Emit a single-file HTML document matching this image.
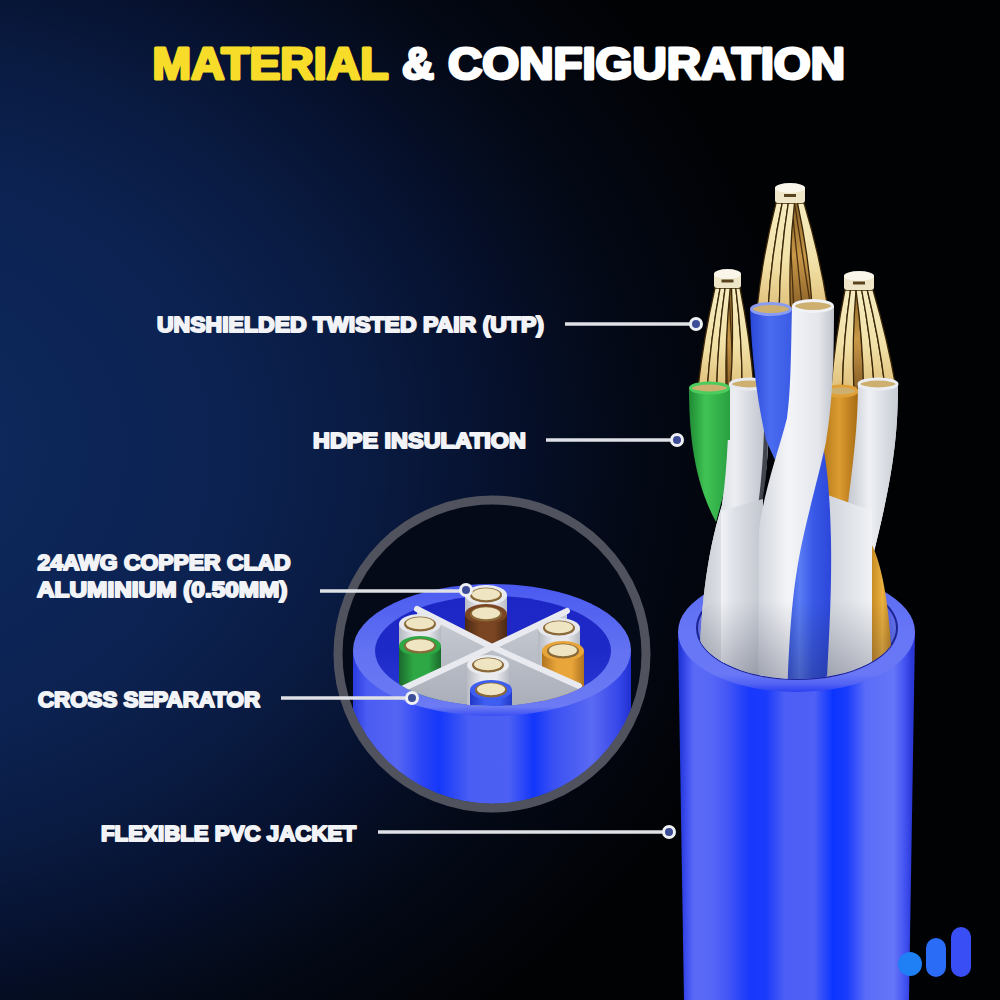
<!DOCTYPE html>
<html><head><meta charset="utf-8">
<style>
html,body{margin:0;padding:0;background:#010204;width:1000px;height:1000px;overflow:hidden}
svg{display:block}
text{font-family:"Liberation Sans",sans-serif;font-weight:bold}
</style></head><body>
<svg width="1000" height="1000" viewBox="0 0 1000 1000">
<defs>
<radialGradient id="bg" cx="-150" cy="450" r="950" gradientUnits="userSpaceOnUse" gradientTransform="translate(-150 450) scale(1 0.79) translate(150 -450)">
<stop offset="0" stop-color="#0e2b60"/>
<stop offset="0.37" stop-color="#0c2353"/>
<stop offset="0.53" stop-color="#0a1c44"/>
<stop offset="0.68" stop-color="#06112e"/>
<stop offset="0.8" stop-color="#040a19"/>
<stop offset="0.94" stop-color="#02040a"/>
<stop offset="1" stop-color="#010204"/>
</radialGradient>
<linearGradient id="cyl2" x1="353" y1="0" x2="631" y2="0" gradientUnits="userSpaceOnUse">
<stop offset="0" stop-color="#2a3be0"/>
<stop offset="0.05" stop-color="#4a5cf2"/>
<stop offset="0.16" stop-color="#5565f3"/>
<stop offset="0.25" stop-color="#2a44f5"/>
<stop offset="0.31" stop-color="#1538fa"/>
<stop offset="0.42" stop-color="#4a5ef3"/>
<stop offset="0.56" stop-color="#4d60f3"/>
<stop offset="0.65" stop-color="#1236fb"/>
<stop offset="0.72" stop-color="#3a50f3"/>
<stop offset="0.86" stop-color="#5a6af3"/>
<stop offset="0.96" stop-color="#3445e8"/>
<stop offset="1" stop-color="#2030d0"/>
</linearGradient>
<linearGradient id="rim2" x1="0" y1="585" x2="0" y2="716" gradientUnits="userSpaceOnUse">
<stop offset="0" stop-color="#4a5af0"/>
<stop offset="0.5" stop-color="#6272f2"/>
<stop offset="0.93" stop-color="#6c7af4"/>
<stop offset="1" stop-color="#3a4ef2"/>
</linearGradient>
<linearGradient id="inner2" x1="0" y1="596" x2="0" y2="706" gradientUnits="userSpaceOnUse">
<stop offset="0" stop-color="#1c26c4"/>
<stop offset="0.5" stop-color="#1e2ac8"/>
<stop offset="1" stop-color="#2a3ad8"/>
</linearGradient>
<clipPath id="insetClip"><circle cx="492" cy="654" r="150"/></clipPath>
<linearGradient id="sepFace" x1="0" y1="610" x2="0" y2="740" gradientUnits="userSpaceOnUse">
<stop offset="0" stop-color="#c9cdd5"/><stop offset="1" stop-color="#9ea3ae"/></linearGradient>
<clipPath id="open2"><rect x="0" y="0" width="1000" height="651"/><ellipse cx="493" cy="651" rx="118" ry="55"/></clipPath>

<linearGradient id="cyl1" x1="680" y1="0" x2="912" y2="0" gradientUnits="userSpaceOnUse">
<stop offset="0" stop-color="#2236d8"/>
<stop offset="0.03" stop-color="#4050f0"/>
<stop offset="0.06" stop-color="#5a6af6"/>
<stop offset="0.13" stop-color="#5868f6"/>
<stop offset="0.2" stop-color="#4658f5"/>
<stop offset="0.3" stop-color="#1838fc"/>
<stop offset="0.37" stop-color="#1a3afc"/>
<stop offset="0.45" stop-color="#4c5ef5"/>
<stop offset="0.58" stop-color="#4e60f5"/>
<stop offset="0.66" stop-color="#0a34ff"/>
<stop offset="0.72" stop-color="#1a3cfc"/>
<stop offset="0.8" stop-color="#5a6cf8"/>
<stop offset="0.92" stop-color="#6676f8"/>
<stop offset="0.97" stop-color="#4252f0"/>
<stop offset="1" stop-color="#2a38d8"/>
</linearGradient>
<linearGradient id="rim1" x1="0" y1="572" x2="0" y2="692" gradientUnits="userSpaceOnUse">
<stop offset="0" stop-color="#5a6af2"/>
<stop offset="0.5" stop-color="#6676f6"/>
<stop offset="0.85" stop-color="#6a78f6"/>
<stop offset="0.93" stop-color="#5464f4"/>
<stop offset="1" stop-color="#2a40f0"/>
</linearGradient>
<linearGradient id="inner1" x1="697" y1="0" x2="897" y2="0" gradientUnits="userSpaceOnUse">
<stop offset="0" stop-color="#6c7af4"/>
<stop offset="0.1" stop-color="#3a4ce8"/>
<stop offset="0.9" stop-color="#3a4ce8"/>
<stop offset="1" stop-color="#6c7af4"/>
</linearGradient>
<clipPath id="lowL"><rect x="0" y="440" width="1000" height="560"/></clipPath>
<linearGradient id="aoG" x1="0" y1="600" x2="0" y2="690" gradientUnits="userSpaceOnUse"><stop offset="0" stop-color="#101430" stop-opacity="0"/><stop offset="1" stop-color="#101430" stop-opacity="0.3"/></linearGradient>
<clipPath id="open1"><rect x="0" y="0" width="1000" height="628"/><ellipse cx="797" cy="628" rx="100" ry="51"/></clipPath>
<linearGradient id="whiteL" x1="699" y1="0" x2="770" y2="0" gradientUnits="userSpaceOnUse"><stop offset="0" stop-color="#c4c8d0"/><stop offset="0.5" stop-color="#eceef2"/><stop offset="1" stop-color="#b8bcc6"/></linearGradient>
<linearGradient id="whiteR" x1="846" y1="0" x2="898" y2="0" gradientUnits="userSpaceOnUse"><stop offset="0" stop-color="#c0c4cc"/><stop offset="0.45" stop-color="#eef0f4"/><stop offset="1" stop-color="#c8ccd4"/></linearGradient>
<linearGradient id="whiteC" x1="757" y1="0" x2="834" y2="0" gradientUnits="userSpaceOnUse"><stop offset="0" stop-color="#d0d4dc"/><stop offset="0.4" stop-color="#f4f5f8"/><stop offset="0.8" stop-color="#e4e6ec"/><stop offset="1" stop-color="#c0c4cc"/></linearGradient>
<linearGradient id="greenG" x1="689" y1="0" x2="730" y2="0" gradientUnits="userSpaceOnUse"><stop offset="0" stop-color="#1f8a34"/><stop offset="0.4" stop-color="#40c455"/><stop offset="1" stop-color="#2aa040"/></linearGradient>
<linearGradient id="orangeG" x1="824" y1="0" x2="858" y2="0" gradientUnits="userSpaceOnUse"><stop offset="0" stop-color="#b87c1c"/><stop offset="0.45" stop-color="#dc9c30"/><stop offset="1" stop-color="#a86c14"/></linearGradient>
<linearGradient id="orangeG2" x1="872" y1="0" x2="893" y2="0" gradientUnits="userSpaceOnUse"><stop offset="0" stop-color="#c88c24"/><stop offset="0.5" stop-color="#eab040"/><stop offset="1" stop-color="#b87c1c"/></linearGradient>
<linearGradient id="blueG" x1="750" y1="0" x2="800" y2="0" gradientUnits="userSpaceOnUse"><stop offset="0" stop-color="#2a48d8"/><stop offset="0.4" stop-color="#4a6cf0"/><stop offset="1" stop-color="#3454e0"/></linearGradient>
<linearGradient id="blueG2" x1="781" y1="0" x2="834" y2="0" gradientUnits="userSpaceOnUse"><stop offset="0" stop-color="#2a48d8"/><stop offset="0.35" stop-color="#5a7cf4"/><stop offset="0.6" stop-color="#3a5ae8"/><stop offset="1" stop-color="#2a44d8"/></linearGradient>
<linearGradient id="slabL" x1="721" y1="0" x2="763" y2="0" gradientUnits="userSpaceOnUse"><stop offset="0" stop-color="#f0f2f5"/><stop offset="0.3" stop-color="#dfe2e8"/><stop offset="1" stop-color="#c2c6ce"/></linearGradient>
<linearGradient id="slabR" x1="825" y1="0" x2="872" y2="0" gradientUnits="userSpaceOnUse"><stop offset="0" stop-color="#cfd3da"/><stop offset="0.6" stop-color="#e2e5ea"/><stop offset="1" stop-color="#f0f2f5"/></linearGradient>

</defs>
<rect width="1000" height="1000" fill="#010204"/>
<rect width="1000" height="1000" fill="url(#bg)"/>

<!-- title -->
<g stroke-width="3" stroke-linejoin="round">
<text x="152.5" y="79" font-size="44" fill="#f7dc2a" stroke="#f7dc2a" textLength="236" lengthAdjust="spacingAndGlyphs">MATERIAL</text>
<text x="402" y="79" font-size="44" fill="#ffffff" stroke="#ffffff" textLength="32" lengthAdjust="spacingAndGlyphs">&amp;</text>
<text x="448" y="79" font-size="44" fill="#ffffff" stroke="#ffffff" textLength="397" lengthAdjust="spacingAndGlyphs">CONFIGURATION</text>
</g>

<!-- labels -->
<g fill="#f2f3f6" stroke="#f2f3f6" stroke-width="2" stroke-linejoin="round" font-size="22">
<text x="157" y="331.5" textLength="387" lengthAdjust="spacingAndGlyphs">UNSHIELDED TWISTED PAIR (UTP)</text>
<text x="313" y="447.5" textLength="213" lengthAdjust="spacingAndGlyphs">HDPE INSULATION</text>
<text x="37.5" y="569.5" textLength="253" lengthAdjust="spacingAndGlyphs">24AWG COPPER CLAD</text>
<text x="37" y="596.5" textLength="250.5" lengthAdjust="spacingAndGlyphs">ALUMINIUM (0.50MM)</text>
<text x="38" y="706.5" textLength="222" lengthAdjust="spacingAndGlyphs">CROSS SEPARATOR</text>
<text x="101" y="840.5" textLength="255" lengthAdjust="spacingAndGlyphs">FLEXIBLE PVC JACKET</text>
</g>

<!-- inset circle -->
<circle cx="492" cy="654" r="151" fill="#050a19"/>
<g clip-path="url(#insetClip)">
  <rect x="353" y="650" width="278" height="220" fill="url(#cyl2)"/>
  <ellipse cx="492" cy="650" rx="139" ry="66" fill="url(#rim2)"/>
  <ellipse cx="493" cy="651" rx="118" ry="55" fill="url(#inner2)"/>
  <g clip-path="url(#open2)">
<linearGradient id="w486_595" x1="465" y1="0" x2="507" y2="0" gradientUnits="userSpaceOnUse"><stop offset="0" stop-color="#b9bcc4"/><stop offset="0.35" stop-color="#e9ebef"/><stop offset="0.7" stop-color="#e9ebef"/><stop offset="1" stop-color="#b9bcc4"/></linearGradient>
<path d="M465,595 L465,645 A21,10 0 0,0 507,645 L507,595 Z" fill="url(#w486_595)"/>
<ellipse cx="486" cy="595" rx="21" ry="10" fill="#e9ebef"/>
<ellipse cx="486" cy="595" rx="16" ry="7.5" fill="#8a6a38"/>
<ellipse cx="486" cy="594.2" rx="14" ry="6" fill="#efe5c2"/>
<linearGradient id="w486_614" x1="465" y1="0" x2="507" y2="0" gradientUnits="userSpaceOnUse"><stop offset="0" stop-color="#4a2a14"/><stop offset="0.35" stop-color="#7a4522"/><stop offset="0.7" stop-color="#7a4522"/><stop offset="1" stop-color="#4a2a14"/></linearGradient>
<path d="M465,614 L465,664 A21,10 0 0,0 507,664 L507,614 Z" fill="url(#w486_614)"/>
<ellipse cx="486" cy="614" rx="21" ry="10" fill="#7a4522"/>
<ellipse cx="486" cy="614" rx="16" ry="7.5" fill="#8a6a38"/>
<ellipse cx="486" cy="613.2" rx="14" ry="6" fill="#efe5c2"/>
<path d="M492,647 L417,609 L417,659 L492,697 Z" fill="url(#sepFace)"/>
<path d="M492,647 L567,611 L567,661 L492,697 Z" fill="url(#sepFace)"/>
<line x1="492" y1="647" x2="417" y2="609" stroke="#e8eaef" stroke-width="6" stroke-linecap="round"/>
<line x1="492" y1="647" x2="567" y2="611" stroke="#e8eaef" stroke-width="6" stroke-linecap="round"/>
<linearGradient id="w420_624" x1="399" y1="0" x2="441" y2="0" gradientUnits="userSpaceOnUse"><stop offset="0" stop-color="#b4b8c0"/><stop offset="0.35" stop-color="#e6e8ed"/><stop offset="0.7" stop-color="#e6e8ed"/><stop offset="1" stop-color="#b4b8c0"/></linearGradient>
<path d="M399,624 L399,674 A21,10 0 0,0 441,674 L441,624 Z" fill="url(#w420_624)"/>
<ellipse cx="420" cy="624" rx="21" ry="10" fill="#e6e8ed"/>
<ellipse cx="420" cy="624" rx="16" ry="7.5" fill="#8a6a38"/>
<ellipse cx="420" cy="623.2" rx="14" ry="6" fill="#efe5c2"/>
<linearGradient id="w420_646" x1="399" y1="0" x2="441" y2="0" gradientUnits="userSpaceOnUse"><stop offset="0" stop-color="#1a6a2c"/><stop offset="0.35" stop-color="#2ea844"/><stop offset="0.7" stop-color="#2ea844"/><stop offset="1" stop-color="#1a6a2c"/></linearGradient>
<path d="M399,646 L399,706 A21,10 0 0,0 441,706 L441,646 Z" fill="url(#w420_646)"/>
<ellipse cx="420" cy="646" rx="21" ry="10" fill="#2ea844"/>
<ellipse cx="420" cy="646" rx="16" ry="7.5" fill="#8a6a38"/>
<ellipse cx="420" cy="645.2" rx="14" ry="6" fill="#efe5c2"/>
<linearGradient id="w559_628" x1="538" y1="0" x2="580" y2="0" gradientUnits="userSpaceOnUse"><stop offset="0" stop-color="#b4b8c0"/><stop offset="0.35" stop-color="#e6e8ed"/><stop offset="0.7" stop-color="#e6e8ed"/><stop offset="1" stop-color="#b4b8c0"/></linearGradient>
<path d="M538,628 L538,678 A21,10 0 0,0 580,678 L580,628 Z" fill="url(#w559_628)"/>
<ellipse cx="559" cy="628" rx="21" ry="10" fill="#e6e8ed"/>
<ellipse cx="559" cy="628" rx="16" ry="7.5" fill="#8a6a38"/>
<ellipse cx="559" cy="627.2" rx="14" ry="6" fill="#efe5c2"/>
<linearGradient id="w563_651" x1="542" y1="0" x2="584" y2="0" gradientUnits="userSpaceOnUse"><stop offset="0" stop-color="#b07420"/><stop offset="0.35" stop-color="#e8a53a"/><stop offset="0.7" stop-color="#e8a53a"/><stop offset="1" stop-color="#b07420"/></linearGradient>
<path d="M542,651 L542,711 A21,10 0 0,0 584,711 L584,651 Z" fill="url(#w563_651)"/>
<ellipse cx="563" cy="651" rx="21" ry="10" fill="#e8a53a"/>
<ellipse cx="563" cy="651" rx="16" ry="7.5" fill="#8a6a38"/>
<ellipse cx="563" cy="650.2" rx="14" ry="6" fill="#efe5c2"/>
<path d="M492,647 L402,689 L402,749 L492,707 Z" fill="url(#sepFace)"/>
<path d="M492,647 L579,686 L579,746 L492,707 Z" fill="url(#sepFace)"/>
<line x1="492" y1="647" x2="402" y2="689" stroke="#e8eaef" stroke-width="6" stroke-linecap="round"/>
<line x1="492" y1="647" x2="579" y2="686" stroke="#e8eaef" stroke-width="6" stroke-linecap="round"/>
<linearGradient id="w488_665" x1="467" y1="0" x2="509" y2="0" gradientUnits="userSpaceOnUse"><stop offset="0" stop-color="#b9bcc4"/><stop offset="0.35" stop-color="#e9ebef"/><stop offset="0.7" stop-color="#e9ebef"/><stop offset="1" stop-color="#b9bcc4"/></linearGradient>
<path d="M467,665 L467,715 A21,10 0 0,0 509,715 L509,665 Z" fill="url(#w488_665)"/>
<ellipse cx="488" cy="665" rx="21" ry="10" fill="#e9ebef"/>
<ellipse cx="488" cy="665" rx="16" ry="7.5" fill="#8a6a38"/>
<ellipse cx="488" cy="664.2" rx="14" ry="6" fill="#efe5c2"/>
<linearGradient id="w491_690" x1="470" y1="0" x2="512" y2="0" gradientUnits="userSpaceOnUse"><stop offset="0" stop-color="#2238c8"/><stop offset="0.35" stop-color="#3d5ef0"/><stop offset="0.7" stop-color="#3d5ef0"/><stop offset="1" stop-color="#2238c8"/></linearGradient>
<path d="M470,690 L470,740 A21,10 0 0,0 512,740 L512,690 Z" fill="url(#w491_690)"/>
<ellipse cx="491" cy="690" rx="21" ry="10" fill="#3d5ef0"/>
<ellipse cx="491" cy="690" rx="16" ry="7.5" fill="#8a6a38"/>
<ellipse cx="491" cy="689.2" rx="14" ry="6" fill="#efe5c2"/>
  </g>
</g>
<circle cx="492" cy="654" r="154" fill="none" stroke="#50535e" stroke-width="9"/>

<!-- main cable -->
<path d="M678,632 L684,1000 L909,1000 L915,632 Z" fill="url(#cyl1)"/>
<ellipse cx="796.5" cy="632" rx="118.5" ry="60" fill="url(#rim1)"/>
<ellipse cx="797" cy="628" rx="100" ry="51" fill="url(#inner1)" stroke="#1c2498" stroke-width="2"/>
<g clip-path="url(#open1)">
<linearGradient id="bkL" x1="0" y1="288" x2="0" y2="388" gradientUnits="userSpaceOnUse"><stop offset="0" stop-color="#8a6428"/><stop offset="0.5" stop-color="#c89848"/><stop offset="1" stop-color="#8a6028"/></linearGradient>
<linearGradient id="ltL" x1="0" y1="288" x2="0" y2="388" gradientUnits="userSpaceOnUse"><stop offset="0" stop-color="#f6ecc0"/><stop offset="0.55" stop-color="#f2e2a8"/><stop offset="1" stop-color="#e0c07a"/></linearGradient>
<path d="M716,288 Q704.0,338.0 698,388 L754,388 Q749.5,338.0 739,288 Z" fill="url(#bkL)"/>
<path d="M726.1,288 Q726.6,338.0 727.1,388" stroke="#4a3010" stroke-width="1.3" fill="none"/>
<path d="M728.9,288 Q731.3,338.0 733.8,388" stroke="#4a3010" stroke-width="1.3" fill="none"/>
<path d="M731.5,288 Q736.1,338.0 740.6,388" stroke="#4a3010" stroke-width="1.3" fill="none"/>
<path d="M715.0,288 Q703.5,338.0 698.0,388 L707.3,388 Q710.7,338.0 720.1,288 Z" fill="url(#ltL)" stroke="#3a2608" stroke-width="1.3"/>
<path d="M720.1,288 Q710.7,338.0 707.3,388 L716.7,388 Q717.9,338.0 725.1,288 Z" fill="url(#ltL)" stroke="#3a2608" stroke-width="1.3"/>
<path d="M725.1,288 Q717.9,338.0 716.7,388 L726.0,388 Q725.1,338.0 730.2,288 Z" fill="url(#ltL)" stroke="#3a2608" stroke-width="1.3"/>
<path d="M731.5,288 Q734.0,338.0 730.5,388 L742.2,388 Q742.0,338.0 735.8,288 Z" fill="url(#ltL)" stroke="#3a2608" stroke-width="1.3"/>
<path d="M735.8,288 Q742.0,338.0 742.2,388 L754.0,388 Q750.0,338.0 740.0,288 Z" fill="url(#ltL)" stroke="#3a2608" stroke-width="1.3"/>
<rect x="714" y="272" width="27" height="16" rx="3" fill="#eee6c6"/>
<ellipse cx="727.5" cy="274" rx="13.5" ry="5" fill="#faf6ea"/>
<rect x="721.5" y="279.5" width="12" height="3" fill="#5a4420"/>
<linearGradient id="bkR" x1="0" y1="290" x2="0" y2="388" gradientUnits="userSpaceOnUse"><stop offset="0" stop-color="#8a6428"/><stop offset="0.5" stop-color="#c89848"/><stop offset="1" stop-color="#8a6028"/></linearGradient>
<linearGradient id="ltR" x1="0" y1="290" x2="0" y2="388" gradientUnits="userSpaceOnUse"><stop offset="0" stop-color="#f6ecc0"/><stop offset="0.55" stop-color="#f2e2a8"/><stop offset="1" stop-color="#e0c07a"/></linearGradient>
<path d="M846,290 Q835.5,339.0 831,388 L896,388 Q887.0,339.0 872,290 Z" fill="url(#bkR)"/>
<path d="M857.5,290 Q861.1,339.0 864.8,388" stroke="#4a3010" stroke-width="1.3" fill="none"/>
<path d="M860.5,290 Q866.5,339.0 872.6,388" stroke="#4a3010" stroke-width="1.3" fill="none"/>
<path d="M863.5,290 Q872.0,339.0 880.4,388" stroke="#4a3010" stroke-width="1.3" fill="none"/>
<path d="M845.0,290 Q835.0,339.0 831.0,388 L842.4,388 Q843.4,339.0 850.5,290 Z" fill="url(#ltR)" stroke="#3a2608" stroke-width="1.3"/>
<path d="M850.5,290 Q843.4,339.0 842.4,388 L853.8,388 Q851.9,339.0 856.0,290 Z" fill="url(#ltR)" stroke="#3a2608" stroke-width="1.3"/>
<path d="M856.0,290 Q862.8,339.0 863.5,388 L874.3,388 Q871.0,339.0 861.7,290 Z" fill="url(#ltR)" stroke="#3a2608" stroke-width="1.3"/>
<path d="M861.7,290 Q871.0,339.0 874.3,388 L885.2,388 Q879.2,339.0 867.3,290 Z" fill="url(#ltR)" stroke="#3a2608" stroke-width="1.3"/>
<path d="M867.3,290 Q879.2,339.0 885.2,388 L896.0,388 Q887.5,339.0 873.0,290 Z" fill="url(#ltR)" stroke="#3a2608" stroke-width="1.3"/>
<rect x="844" y="274" width="30" height="16" rx="3" fill="#eee6c6"/>
<ellipse cx="859.0" cy="276" rx="15.0" ry="5" fill="#faf6ea"/>
<rect x="853.0" y="281.5" width="12" height="3" fill="#5a4420"/>
<linearGradient id="bkC" x1="0" y1="203" x2="0" y2="309" gradientUnits="userSpaceOnUse"><stop offset="0" stop-color="#8a6428"/><stop offset="0.5" stop-color="#c89848"/><stop offset="1" stop-color="#8a6028"/></linearGradient>
<linearGradient id="ltC" x1="0" y1="203" x2="0" y2="309" gradientUnits="userSpaceOnUse"><stop offset="0" stop-color="#f6ecc0"/><stop offset="0.55" stop-color="#f2e2a8"/><stop offset="1" stop-color="#e0c07a"/></linearGradient>
<path d="M777,203 Q763.0,256.0 757,309 L828,309 Q819.5,256.0 803,203 Z" fill="url(#bkC)"/>
<path d="M788.5,203 Q791.2,256.0 793.9,309" stroke="#4a3010" stroke-width="1.3" fill="none"/>
<path d="M791.5,203 Q797.0,256.0 802.4,309" stroke="#4a3010" stroke-width="1.3" fill="none"/>
<path d="M794.5,203 Q802.7,256.0 811.0,309" stroke="#4a3010" stroke-width="1.3" fill="none"/>
<path d="M776.0,203 Q762.5,256.0 757.0,309 L768.1,309 Q771.1,256.0 782.2,203 Z" fill="url(#ltC)" stroke="#3a2608" stroke-width="1.3"/>
<path d="M782.2,203 Q771.1,256.0 768.1,309 L779.2,309 Q779.8,256.0 788.3,203 Z" fill="url(#ltC)" stroke="#3a2608" stroke-width="1.3"/>
<path d="M788.3,203 Q779.8,256.0 779.2,309 L790.4,309 Q788.4,256.0 794.5,203 Z" fill="url(#ltC)" stroke="#3a2608" stroke-width="1.3"/>
<path d="M797.5,203 Q808.9,256.0 812.4,309 L828.0,309 Q820.0,256.0 804.0,203 Z" fill="url(#ltC)" stroke="#3a2608" stroke-width="1.3"/>
<rect x="775" y="186" width="30" height="17" rx="3" fill="#eee6c6"/>
<ellipse cx="790.0" cy="188" rx="15.0" ry="5" fill="#faf6ea"/>
<rect x="784.0" y="194.0" width="12" height="3" fill="#5a4420"/>

<!-- back whites -->
<path d="M729,384 L770,384 C770,420 768,470 762,500 C750,540 725,590 722,700 L699,700 C699,620 705,560 722,505 C727,470 729,430 729,384 Z" fill="url(#whiteL)"/>
<path d="M858,384 L898,384 C898,440 892,480 872,560 L846,520 C852,470 858,430 858,384 Z" fill="url(#whiteR)"/>
<!-- green -->
<path d="M689,388 C689,430 693,480 716,522 L730,470 C730,440 730,420 730,388 Z" fill="url(#greenG)"/>
<path d="M729,384 L770,384 C770,420 768,470 762,500 C750,540 725,590 722,700 L699,700 C699,620 705,560 722,505 C727,470 729,430 729,384 Z" fill="url(#whiteL)" clip-path="url(#lowL)"/>
<ellipse cx="749.5" cy="384" rx="19" ry="5" fill="#cdb070" stroke="#e8eaf0" stroke-width="3"/>
<ellipse cx="709.5" cy="388" rx="19" ry="5" fill="#cdb070" stroke="#4ccc5c" stroke-width="3"/>
<!-- orange top -->
<path d="M824,391 C823,440 824,480 826,520 L858,520 L858,391 Z" fill="url(#orangeG)"/>
<ellipse cx="841" cy="391" rx="16" ry="5" fill="#cdb070" stroke="#e0a038" stroke-width="3"/>
<!-- right white redraw over orange -->
<path d="M858,384 L898,384 C898,440 892,480 872,560 L846,520 C852,470 858,430 858,384 Z" fill="url(#whiteR)"/>
<ellipse cx="878" cy="384" rx="19" ry="5" fill="#cdb070" stroke="#eceef3" stroke-width="3"/>
<!-- crevice -->
<path d="M768,430 C768,460 766,485 762,505 L756,520 C760,495 763,465 764,430 Z" fill="#22242e" opacity="0.8"/>
<!-- slabs -->
<path d="M721,511 L763,499 L763,700 L721,700 Z" fill="url(#slabL)"/>
<path d="M825,494 L872,511 L872,700 L825,700 Z" fill="url(#slabR)"/>
<!-- lower orange -->
<path d="M872,545 C884,570 892,620 893,700 L872,700 Z" fill="url(#orangeG2)"/>
<!-- blue upper & lower -->
<path d="M750,309 C752,360 757,400 766,440 L775,460 L790,425 C792,390 792,350 792,309 Z" fill="url(#blueG)"/>
<ellipse cx="771" cy="309" rx="19.5" ry="5.5" fill="#cdb070" stroke="#8a9cf0" stroke-width="3"/>
<path d="M822,440 C828,470 830,500 831,540 C832,600 828,650 826,700 L781,700 C783,650 790,600 795,560 C800,520 810,480 822,440 Z" fill="url(#blueG2)"/>
<!-- big twisted white -->
<path d="M792,306 C791,350 791,390 787,418 C779,450 764,490 759,530 L758,700 L787,700 C789,640 792,600 797,570 C803,530 818,480 826,442 C831,410 834,380 834,306 Z" fill="url(#whiteC)"/>
<ellipse cx="813" cy="306" rx="19.5" ry="5.5" fill="#cdb070" stroke="#f0f2f6" stroke-width="3"/>
<!-- ambient occlusion near rim -->
<ellipse cx="797" cy="628" rx="100" ry="51" fill="url(#aoG)"/>

</g>

<!-- leader lines -->
<g stroke="#dfe1e7" stroke-width="3.4" fill="none">
<line x1="565" y1="324" x2="690" y2="324"/>
<line x1="546" y1="440" x2="671" y2="440"/>
<line x1="320" y1="591" x2="460" y2="591"/>
<line x1="281" y1="698" x2="406" y2="698"/>
<line x1="378" y1="832" x2="663" y2="832"/>
</g>
<g fill="#3d4d98" stroke="#eef0f4" stroke-width="3">
<circle cx="696" cy="324" r="5.5"/>
<circle cx="677" cy="440" r="5.5"/>
<circle cx="466" cy="590" r="5.5"/>
<circle cx="412" cy="698" r="5.5"/>
<circle cx="669" cy="832" r="5.5"/>
</g>

<!-- logo -->
<circle cx="910" cy="964" r="12" fill="#1f7ff5"/>
<rect x="926" y="938" width="20" height="39" rx="10" fill="#2a6cf5"/>
<rect x="951" y="927" width="20" height="50" rx="10" fill="#3a4ef5"/>
</svg>
</body></html>
